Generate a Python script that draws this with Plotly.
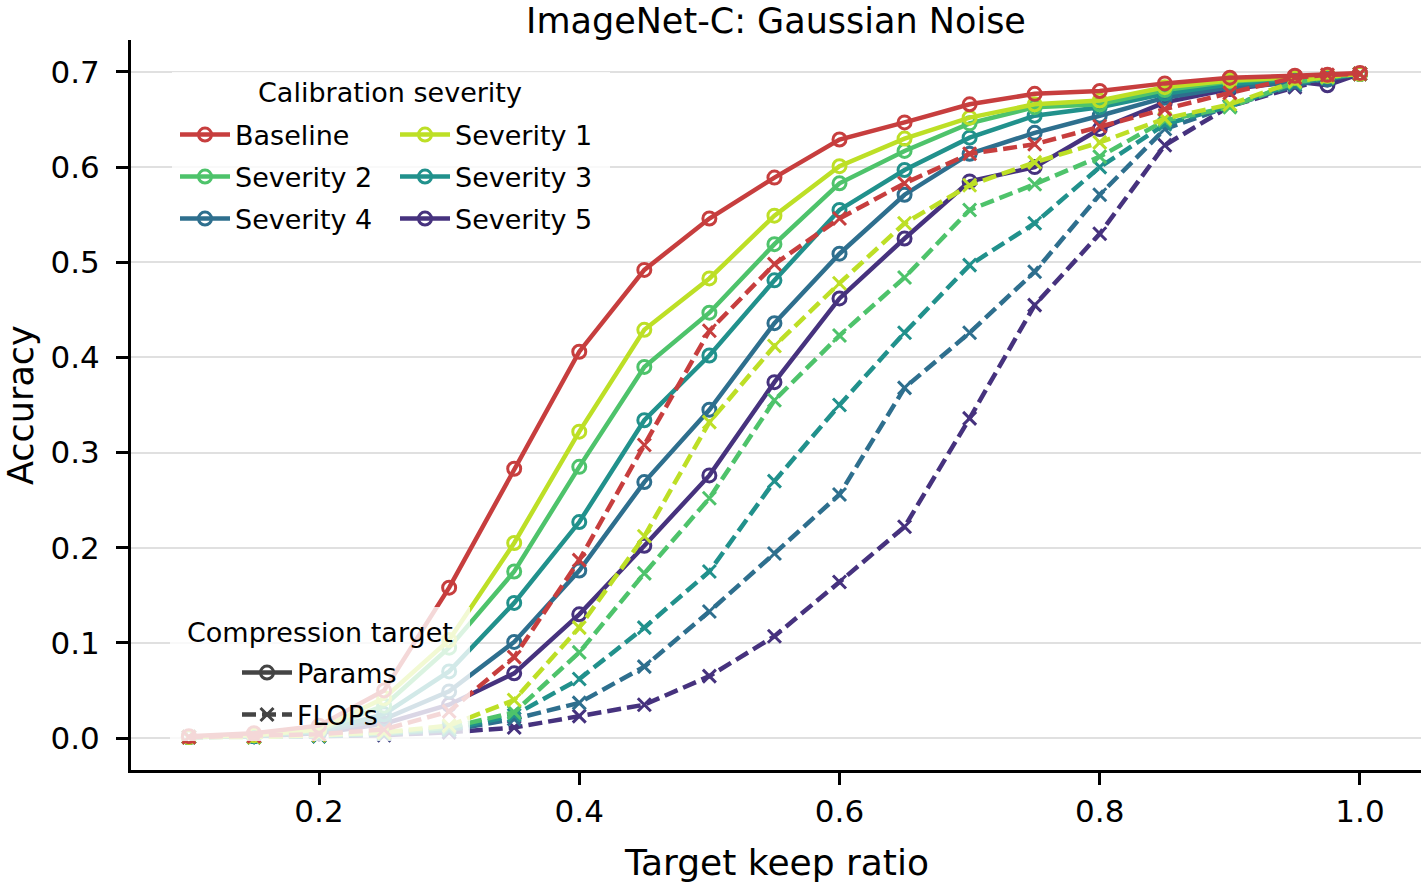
import plotly.graph_objects as go

# ---------------- data ----------------
keep_ratio = [0.1, 0.15, 0.2, 0.25, 0.3, 0.35, 0.4, 0.45, 0.5, 0.55, 0.6, 0.65,
              0.7, 0.75, 0.8, 0.85, 0.9, 0.95, 0.975, 1.0]

series_names = ["Baseline", "Severity 1", "Severity 2", "Severity 3", "Severity 4", "Severity 5"]

params_baseline = [0.002, 0.005, 0.013, 0.050, 0.158, 0.283, 0.406, 0.492, 0.546, 0.589, 0.629, 0.647,
                   0.666, 0.677, 0.680, 0.688, 0.694, 0.696, 0.697, 0.699]
params_sev1 = [0.001, 0.003, 0.009, 0.042, 0.103, 0.205, 0.322, 0.429, 0.483, 0.549, 0.601, 0.630,
               0.652, 0.666, 0.670, 0.684, 0.691, 0.694, 0.696, 0.698]
params_sev2 = [0.001, 0.003, 0.008, 0.034, 0.095, 0.175, 0.285, 0.390, 0.447, 0.519, 0.583, 0.617,
               0.646, 0.663, 0.666, 0.681, 0.690, 0.694, 0.696, 0.698]
params_sev3 = [0.001, 0.002, 0.007, 0.025, 0.070, 0.142, 0.227, 0.334, 0.402, 0.481, 0.555, 0.597,
               0.631, 0.654, 0.663, 0.677, 0.687, 0.693, 0.695, 0.698]
params_sev4 = [0.001, 0.002, 0.006, 0.020, 0.049, 0.101, 0.176, 0.269, 0.345, 0.436, 0.509, 0.571,
               0.614, 0.636, 0.654, 0.673, 0.684, 0.690, 0.692, 0.698]
params_sev5 = [0.001, 0.002, 0.005, 0.015, 0.035, 0.068, 0.130, 0.202, 0.276, 0.374, 0.462, 0.525,
               0.585, 0.600, 0.640, 0.668, 0.682, 0.690, 0.686, 0.698]

flops_baseline = [0.001, 0.002, 0.004, 0.009, 0.028, 0.085, 0.187, 0.308, 0.428, 0.498, 0.546, 0.583,
                  0.614, 0.624, 0.643, 0.661, 0.678, 0.694, 0.697, 0.698]
flops_sev1 = [0.001, 0.001, 0.003, 0.006, 0.013, 0.040, 0.116, 0.212, 0.332, 0.412, 0.478, 0.541,
              0.581, 0.605, 0.626, 0.651, 0.666, 0.690, 0.695, 0.698]
flops_sev2 = [0.001, 0.001, 0.003, 0.005, 0.011, 0.027, 0.090, 0.173, 0.252, 0.355, 0.423, 0.484,
              0.555, 0.582, 0.611, 0.649, 0.663, 0.689, 0.694, 0.698]
flops_sev3 = [0.001, 0.001, 0.002, 0.005, 0.009, 0.024, 0.062, 0.116, 0.175, 0.270, 0.350, 0.426,
              0.497, 0.541, 0.600, 0.645, 0.664, 0.688, 0.694, 0.698]
flops_sev4 = [0.001, 0.001, 0.002, 0.004, 0.008, 0.020, 0.037, 0.075, 0.133, 0.194, 0.256, 0.368,
              0.426, 0.490, 0.571, 0.640, 0.664, 0.686, 0.693, 0.698]
flops_sev5 = [0.001, 0.001, 0.002, 0.003, 0.006, 0.011, 0.023, 0.035, 0.065, 0.107, 0.164, 0.222,
              0.336, 0.455, 0.530, 0.623, 0.664, 0.684, 0.692, 0.698]

params_all = [params_baseline, params_sev1, params_sev2, params_sev3, params_sev4, params_sev5]
flops_all = [flops_baseline, flops_sev1, flops_sev2, flops_sev3, flops_sev4, flops_sev5]

colors = ["#c73e3e", "#bddf26", "#4ec36b", "#21918c", "#2e6f8e", "#46327e"]

x_ticks = [0.2, 0.4, 0.6, 0.8, 1.0]
y_ticks = [0.0, 0.1, 0.2, 0.3, 0.4, 0.5, 0.6, 0.7]

# ---------------- layout helpers ----------------
W, H = 1424, 883
L, R, T, B = 131, 1421, 40, 770
FONT = "DejaVu Sans"


def px(xp):
    return (xp - L) / (R - L)


def py(yp):
    return (B - yp) / (B - T)


fig = go.Figure()

LW = 4.5
MS = 13
MLW = 3
legend_slots = {
    0: (175, 135), 1: (395, 135),
    2: (175, 177), 3: (395, 177),
    4: (175, 219), 5: (395, 219),
}

draw_order = [5, 4, 3, 2, 1, 0]
for i in draw_order:
    lid = "legend" if i == 0 else f"legend{i + 1}"
    fig.add_trace(go.Scatter(
        x=keep_ratio, y=params_all[i], mode="lines+markers", name=series_names[i],
        line=dict(color=colors[i], width=LW),
        marker=dict(symbol="circle-open", size=MS, color=colors[i], line=dict(width=MLW, color=colors[i])),
        legend=lid, showlegend=True,
    ))
    fig.add_trace(go.Scatter(
        x=keep_ratio, y=flops_all[i], mode="lines+markers", name=series_names[i] + " (FLOPs)",
        line=dict(color=colors[i], width=LW, dash="14px,6px"),
        marker=dict(symbol="x-thin-open", size=MS, color=colors[i], line=dict(width=MLW, color=colors[i])),
        showlegend=False,
    ))

# compression target legend entries (style keys only)
fig.add_trace(go.Scatter(
    x=[None], y=[None], mode="lines+markers", name="Params",
    line=dict(color="#444444", width=LW),
    marker=dict(symbol="circle-open", size=MS, color="#444444", line=dict(width=MLW, color="#444444")),
    legend="legend7",
))
fig.add_trace(go.Scatter(
    x=[None], y=[None], mode="lines+markers", name="FLOPs",
    line=dict(color="#444444", width=LW, dash="14px,6px"),
    marker=dict(symbol="x-thin-open", size=MS, color="#444444", line=dict(width=MLW, color="#444444")),
    legend="legend8",
))

legend_common = dict(bgcolor="rgba(0,0,0,0)", borderwidth=0, font=dict(family=FONT, size=27, color="black"),
                     xanchor="left", yanchor="middle", itemwidth=50, itemsizing="trace")
layout_legends = {}
for i, (lx, ly) in legend_slots.items():
    lid = "legend" if i == 0 else f"legend{i + 1}"
    layout_legends[lid] = dict(x=px(lx), y=py(ly), **legend_common)
layout_legends["legend7"] = dict(x=px(237), y=py(673), **legend_common)
layout_legends["legend8"] = dict(x=px(237), y=py(715), **legend_common)

fig.update_layout(**layout_legends)

fig.update_layout(
    width=W, height=H,
    margin=dict(l=L, r=W - R, t=T, b=H - B),
    paper_bgcolor="white", plot_bgcolor="white",
    font=dict(family=FONT, color="black"),
    title=dict(text="ImageNet-C: Gaussian Noise", x=(L + R) / 2 / W, xanchor="center",
               y=1 - 21 / H, yanchor="middle", yref="container",
               font=dict(family=FONT, size=35, color="black")),
    xaxis=dict(range=[0.0555, 1.0469], tickvals=x_ticks, tickformat=".1f",
               showgrid=False, zeroline=False, showline=True, linecolor="black", linewidth=3,
               ticks="outside", ticklen=12, tickwidth=2.5, tickcolor="black",
               tickfont=dict(family=FONT, size=31, color="black"), ticklabelstandoff=0),
    yaxis=dict(range=[-0.0336, 0.7336], tickvals=y_ticks, tickformat=".1f",
               showgrid=True, gridcolor="#e0e0e0", gridwidth=1.5, zeroline=False,
               showline=True, linecolor="black", linewidth=3,
               ticks="outside", ticklen=12, tickwidth=2.5, tickcolor="black",
               tickfont=dict(family=FONT, size=31, color="black"), ticklabelstandoff=10),
    shapes=[
        dict(type="rect", xref="paper", yref="paper", x0=px(172), x1=px(610), y0=py(246), y1=py(72),
             fillcolor="rgba(255,255,255,0.8)", line=dict(width=0), layer="above"),
        dict(type="rect", xref="paper", yref="paper", x0=px(170), x1=px(470), y0=py(741), y1=py(607),
             fillcolor="rgba(255,255,255,0.8)", line=dict(width=0), layer="above"),
    ],
    annotations=[
        dict(text="Calibration severity", xref="paper", yref="paper", x=px(390), y=py(93),
             xanchor="center", yanchor="middle", showarrow=False,
             font=dict(family=FONT, size=27, color="black")),
        dict(text="Compression target", xref="paper", yref="paper", x=px(320), y=py(632),
             xanchor="center", yanchor="middle", showarrow=False,
             font=dict(family=FONT, size=27, color="black")),
        dict(text="Target keep ratio", xref="paper", yref="paper", x=0.5, y=py(862),
             xanchor="center", yanchor="middle", showarrow=False,
             font=dict(family=FONT, size=36, color="black")),
        dict(text="Accuracy", xref="paper", yref="paper", x=px(21), y=0.5, textangle=-90,
             xanchor="center", yanchor="middle", showarrow=False,
             font=dict(family=FONT, size=35, color="black")),
    ],
)

fig.write_html("out.html")
